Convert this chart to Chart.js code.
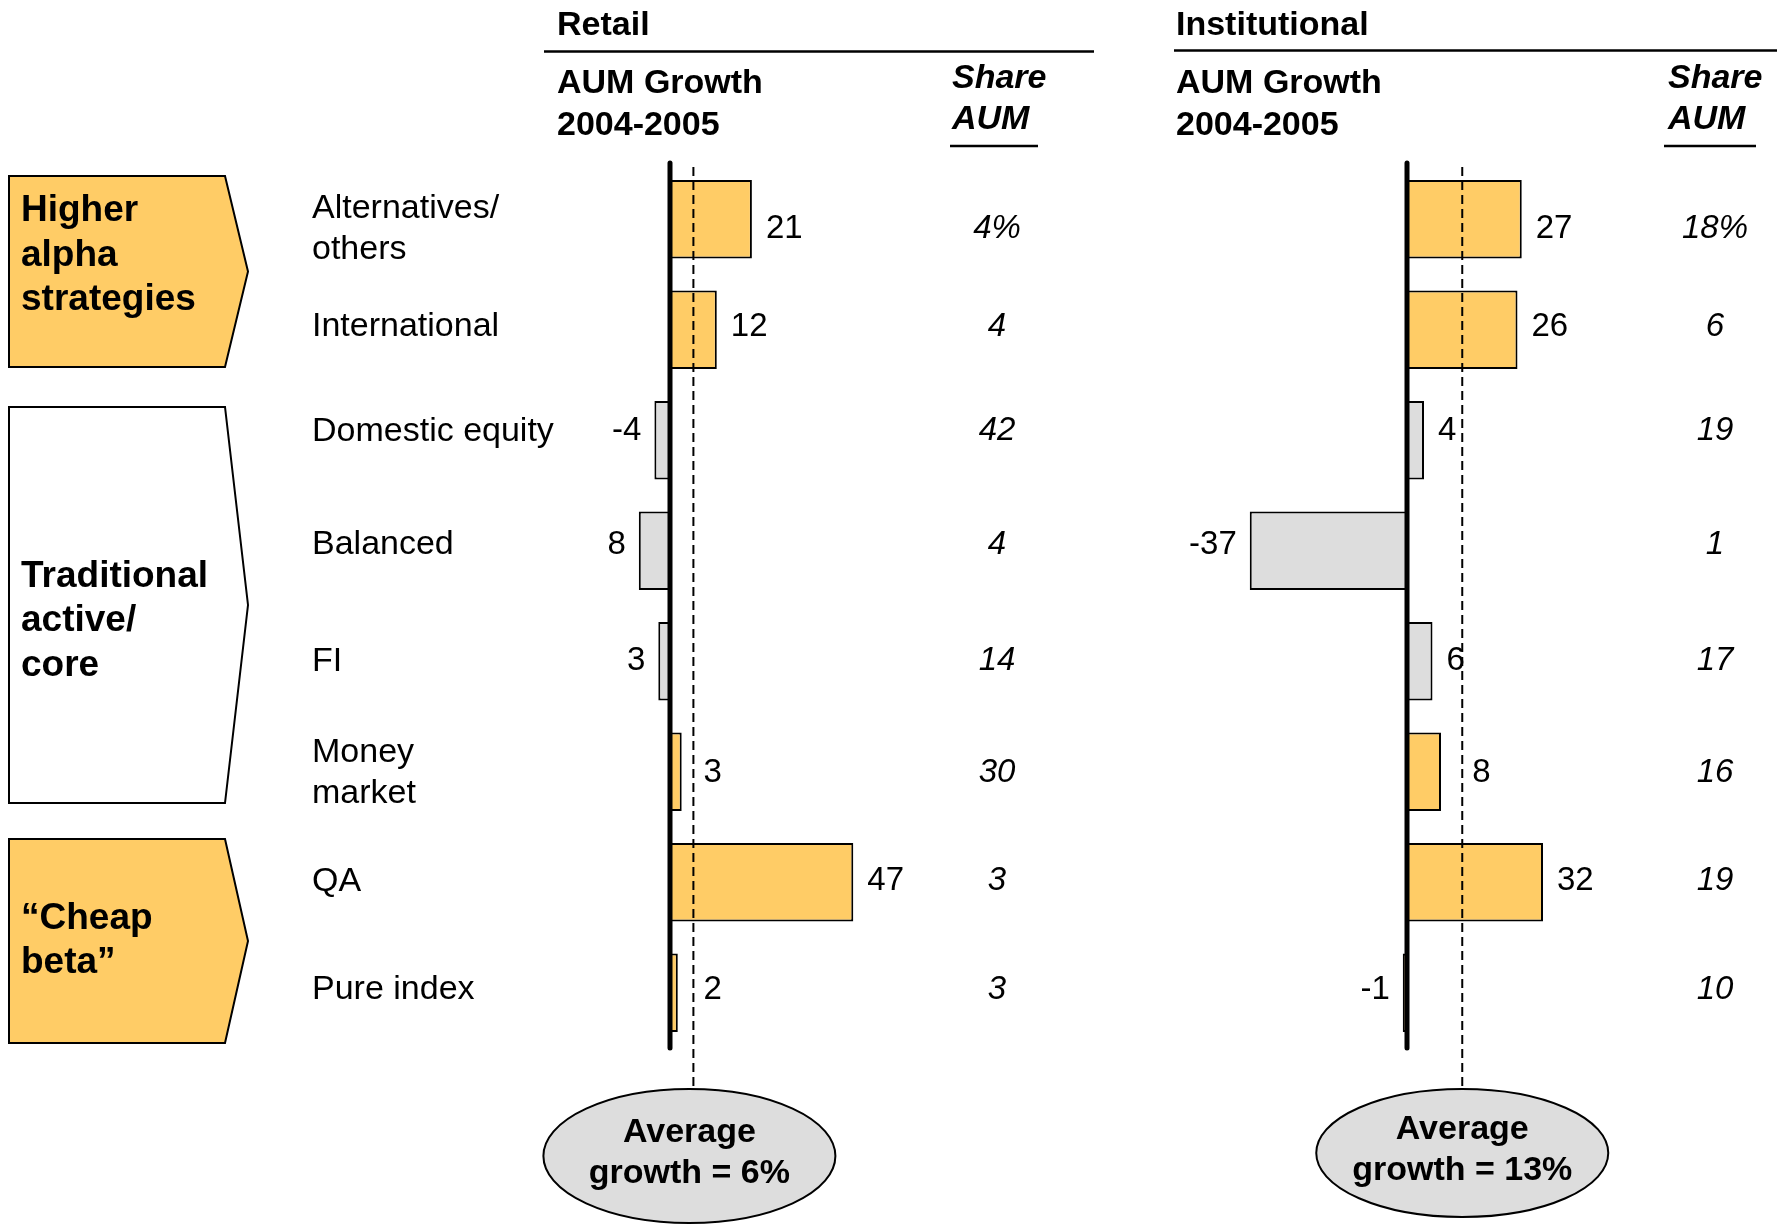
<!DOCTYPE html>
<html>
<head>
<meta charset="utf-8">
<title>AUM growth by strategy, 2004-2005</title>
<script src="https://cdn.jsdelivr.net/npm/chart.js@4.4.1/dist/chart.umd.min.js"></script>
<style>
  html, body { margin: 0; padding: 0; background: #ffffff; }
  #wrap { position: relative; width: 1783px; height: 1224px; overflow: hidden; }
  #wrap canvas { position: absolute; left: 0; top: 0; }
</style>
</head>
<body>
<div id="wrap">
  <canvas id="retail" width="1783" height="1224"></canvas>
  <canvas id="institutional" width="1783" height="1224"></canvas>
</div>
<script>
// ---- data ----
const categories = [
  ['Alternatives/', 'others'],
  ['International'],
  ['Domestic equity'],
  ['Balanced'],
  ['FI'],
  ['Money', 'market'],
  ['QA'],
  ['Pure index']
];

const retailGrowth = [21, 12, -4, -8, -3, 3, 47, 2];
const retailGrowthLabels = ['21', '12', '-4', '8', '3', '3', '47', '2'];
const retailShare = ['4%', '4', '42', '4', '14', '30', '3', '3'];
const retailAverage = 6;

const institutionalGrowth = [27, 26, 4, -37, 6, 8, 32, -1];
const institutionalGrowthLabels = ['27', '26', '4', '-37', '6', '8', '32', '-1'];
const institutionalShare = ['18%', '6', '19', '1', '17', '16', '19', '10'];
const institutionalAverage = 13;

const strategyGroups = [
  { lines: ['Higher', 'alpha', 'strategies'], first: 0, last: 1, filled: true },
  { lines: ['Traditional', 'active/', 'core'], first: 2, last: 5, filled: false },
  { lines: ['\u201CCheap', 'beta\u201D'], first: 6, last: 7, filled: true }
];

// categories whose bars are highlighted
const highlighted = new Set(['Alternatives/ others', 'International', 'Money market', 'QA', 'Pure index']);

// ---- styling / layout ----
const FONT = '"Liberation Sans", Arial, Helvetica, sans-serif';
const YELLOW = '#FFCC66';
const GREY = '#DDDDDD';
const INK = '#000000';

const barColors = categories.map(c => highlighted.has(c.join(' ')) ? YELLOW : GREY);

const PLOT_TOP = 164;
const PLOT_BOTTOM = 1048;

// small vertical nudges of the text rows relative to the bar rows
const textRowShift = [10, -3, -9, -6, 0, 1, -1, -3];
// chevron insets inside their row bands [top, bottom] and text nudge
const groupInsets = [[12, 18], [22, 24], [12, 5]];
const groupTextShift = [-16, 16, 0];

const panels = [
  {
    canvas: 'retail', title: 'Retail',
    values: retailGrowth, valueLabels: retailGrowthLabels, share: retailShare, average: retailAverage,
    xMin: -10, xMax: 50, areaLeft: 631, areaRight: 865,
    headX: 557, rule: [544, 1094, 51.5], shareHeadX: 952, shareRule: [950, 1038], shareColX: 997,
    ellipse: { dx: -4, cy: 1156, rx: 146, ry: 67 }, drawGroups: true
  },
  {
    canvas: 'institutional', title: 'Institutional',
    values: institutionalGrowth, valueLabels: institutionalGrowthLabels, share: institutionalShare, average: institutionalAverage,
    xMin: -40, xMax: 40, areaLeft: 1237, areaRight: 1577,
    headX: 1176, rule: [1174, 1777, 50.5], shareHeadX: 1668, shareRule: [1664, 1756], shareColX: 1715,
    ellipse: { dx: 0, cy: 1153, rx: 146, ry: 64 }, drawGroups: false
  }
];

function text(ctx, str, x, y, font, align, baseline) {
  ctx.font = font;
  ctx.textAlign = align || 'left';
  ctx.textBaseline = baseline || 'alphabetic';
  ctx.fillStyle = INK;
  ctx.fillText(str, x, y);
}

function hline(ctx, x1, x2, y, w) {
  ctx.beginPath();
  ctx.lineWidth = w;
  ctx.strokeStyle = INK;
  ctx.moveTo(x1, y);
  ctx.lineTo(x2, y);
  ctx.stroke();
}

function panelDecorations(panel) {
  return {
    id: 'panelDecorations_' + panel.canvas,
    afterDatasetsDraw(chart) {
      const ctx = chart.ctx;
      const xs = chart.scales.x;
      const ys = chart.scales.y;
      const area = chart.chartArea;
      const zeroX = xs.getPixelForValue(0);
      const avgX = xs.getPixelForValue(panel.average);
      const band = ys.getPixelForValue(1) - ys.getPixelForValue(0);
      const el = panel.ellipse;
      ctx.save();

      // average growth reference line
      ctx.beginPath();
      ctx.setLineDash([9, 5]);
      ctx.lineWidth = 2;
      ctx.strokeStyle = INK;
      ctx.moveTo(avgX, area.top + 3);
      ctx.lineTo(avgX, el.cy - el.ry);
      ctx.stroke();
      ctx.setLineDash([]);

      // zero axis
      ctx.beginPath();
      ctx.lineWidth = 5;
      ctx.lineCap = 'round';
      ctx.moveTo(zeroX, area.top - 1);
      ctx.lineTo(zeroX, area.bottom);
      ctx.stroke();
      ctx.lineCap = 'butt';

      // growth value labels
      const meta = chart.getDatasetMeta(0);
      panel.values.forEach((v, i) => {
        const bar = meta.data[i];
        const yc = ys.getPixelForValue(i) + textRowShift[i];
        if (v >= 0) {
          let lx = bar.x + 14;
          if (lx > avgX - 10 && lx < avgX + 10) lx = avgX + 10;
          text(ctx, panel.valueLabels[i], lx, yc, '33px ' + FONT, 'left', 'middle');
        } else {
          text(ctx, panel.valueLabels[i], bar.x - 13, yc, '33px ' + FONT, 'right', 'middle');
        }
      });

      // share of AUM column
      panel.share.forEach((s, i) => {
        text(ctx, s, panel.shareColX, ys.getPixelForValue(i) + textRowShift[i], 'italic 33px ' + FONT, 'center', 'middle');
      });

      // column headers
      text(ctx, panel.title, panel.headX, 35, 'bold 34px ' + FONT);
      hline(ctx, panel.rule[0], panel.rule[1], panel.rule[2], 2.5);
      text(ctx, 'AUM Growth', panel.headX, 93, 'bold 34px ' + FONT);
      text(ctx, '2004-2005', panel.headX, 135, 'bold 34px ' + FONT);
      text(ctx, 'Share', panel.shareHeadX, 88, 'bold italic 34px ' + FONT);
      text(ctx, 'AUM', panel.shareHeadX, 129, 'bold italic 34px ' + FONT);
      hline(ctx, panel.shareRule[0], panel.shareRule[1], 146, 2.5);

      // average growth callout
      const ex = avgX + el.dx;
      ctx.beginPath();
      ctx.ellipse(ex, el.cy, el.rx, el.ry, 0, 0, Math.PI * 2);
      ctx.fillStyle = GREY;
      ctx.fill();
      ctx.lineWidth = 2;
      ctx.strokeStyle = INK;
      ctx.stroke();
      text(ctx, 'Average', ex, el.cy - 23, 'bold 34px ' + FONT, 'center', 'middle');
      text(ctx, 'growth = ' + panel.average + '%', ex, el.cy + 18, 'bold 34px ' + FONT, 'center', 'middle');

      if (panel.drawGroups) {
        // category names
        categories.forEach((lines, i) => {
          const yc = ys.getPixelForValue(i) + textRowShift[i];
          const lh = 41;
          lines.forEach((ln, k) => {
            text(ctx, ln, 312, yc + (k - (lines.length - 1) / 2) * lh, '34px ' + FONT, 'left', 'middle');
          });
        });
        // strategy group chevrons
        strategyGroups.forEach((g, gi) => {
          const top = ys.getPixelForValue(g.first) - band / 2 + groupInsets[gi][0];
          const bottom = ys.getPixelForValue(g.last) + band / 2 - groupInsets[gi][1];
          const mid = (top + bottom) / 2;
          const left = 9, right = 225, tip = 248;
          ctx.beginPath();
          ctx.moveTo(left, top);
          ctx.lineTo(right, top);
          ctx.lineTo(tip, mid);
          ctx.lineTo(right, bottom);
          ctx.lineTo(left, bottom);
          ctx.closePath();
          ctx.fillStyle = g.filled ? YELLOW : '#FFFFFF';
          ctx.fill();
          ctx.lineWidth = 2;
          ctx.strokeStyle = INK;
          ctx.stroke();
          const lh = 44.5;
          const tc = mid + groupTextShift[gi];
          g.lines.forEach((ln, k) => {
            text(ctx, ln, 21, tc + (k - (g.lines.length - 1) / 2) * lh, 'bold 37px ' + FONT, 'left', 'middle');
          });
        });
      }
      ctx.restore();
    }
  };
}

panels.forEach(panel => {
  new Chart(document.getElementById(panel.canvas), {
    type: 'bar',
    data: {
      labels: categories,
      datasets: [{
        data: panel.values,
        backgroundColor: barColors,
        borderColor: INK,
        borderWidth: 2,
        borderSkipped: 'start',
        barPercentage: 0.71,
        categoryPercentage: 1
      }]
    },
    options: {
      indexAxis: 'y',
      responsive: false,
      animation: false,
      devicePixelRatio: 1,
      layout: {
        padding: {
          left: panel.areaLeft,
          right: 1783 - panel.areaRight,
          top: PLOT_TOP,
          bottom: 1224 - PLOT_BOTTOM
        }
      },
      plugins: { legend: { display: false }, tooltip: { enabled: false }, title: { display: false } },
      scales: {
        x: { type: 'linear', min: panel.xMin, max: panel.xMax, display: false },
        y: { type: 'category', display: false, offset: true }
      }
    },
    plugins: [panelDecorations(panel)]
  });
});
</script>
</body>
</html>
